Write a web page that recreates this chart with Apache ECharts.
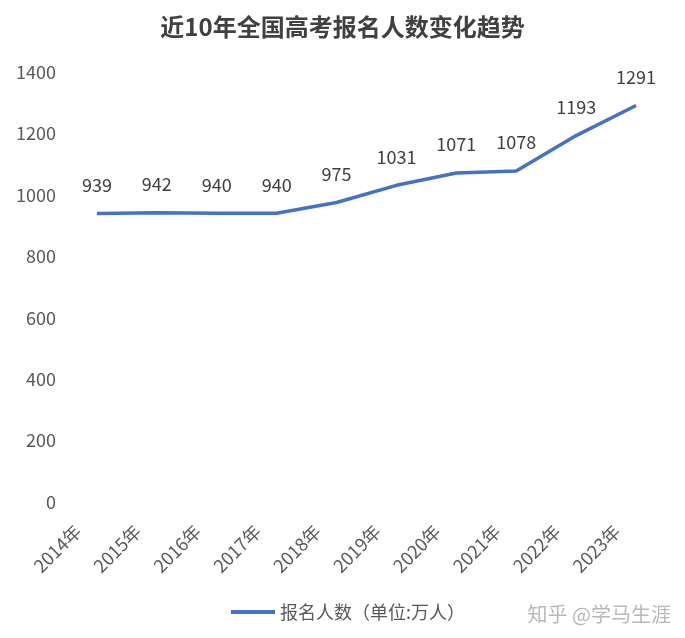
<!DOCTYPE html>
<html><head><meta charset="utf-8">
<script src="https://cdn.jsdelivr.net/npm/echarts@6/dist/echarts.min.js"></script>
<style>html,body{margin:0;padding:0;background:#fff}#c{width:685px;height:638px}</style>
</head><body><div id="c"></div>
<script>
const categories = ['2014年','2015年','2016年','2017年','2018年','2019年','2020年','2021年','2022年','2023年'];
const values = [939, 942, 940, 940, 975, 1031, 1071, 1078, 1193, 1291];
const seriesName = '报名人数（单位:万人）';
const titleText = '近10年全国高考报名人数变化趋势';
const watermark = '知乎 @学马生涯';
const FONT = '"Noto Sans CJK SC", "Noto Sans", sans-serif';
const chart = echarts.init(document.getElementById('c'), null, {renderer:'canvas'});
chart.setOption({
  animation: false,
  backgroundColor: '#fff',
  title: {text: titleText, left: 'center', top: 10,
    textStyle: {fontFamily: FONT, fontSize: 24, fontWeight: 'bold', color: '#404040'}},
  grid: {left: 67, right: 19, top: 72, bottom: 136, containLabel: false},
  xAxis: {type: 'category', data: categories, boundaryGap: true,
    axisLine: {show: false}, axisTick: {show: false}, splitLine: {show: false},
    axisLabel: {rotate: 45, interval: 0, margin: 7, fontFamily: FONT, fontSize: 18, color: '#595959',
      padding: [0, 27, 0, 0]}},
  yAxis: {type: 'value', min: 0, max: 1400, interval: 200,
    axisLine: {show: false}, axisTick: {show: false}, splitLine: {show: false},
    axisLabel: {margin: 11, fontFamily: FONT, fontSize: 18, color: '#595959', formatter: v => String(v)}},
  legend: {bottom: 12, left: 226, itemWidth: 44, itemHeight: 4, itemGap: 6,
    itemStyle: {color: '#4472C4', opacity: 1},
    textStyle: {fontFamily: FONT, fontSize: 18, color: '#595959'},
    data: [{name: seriesName, icon: 'rect', itemStyle: {color: '#4472C4', opacity: 1}}], selectedMode: false},
  series: [{name: seriesName, type: 'line', data: values, showSymbol: true, symbol: 'circle', symbolSize: 1,
    lineStyle: {color: '#4472C4', width: 3.5}, itemStyle: {color: '#4472C4', opacity: 0},
    label: {show: true, position: 'top', distance: 19, fontFamily: FONT, fontSize: 18, color: '#404040', opacity: 1}}],
  graphic: [{type: 'text', right: 14, bottom: 14,
    style: {text: watermark, fontFamily: FONT, fontSize: 20, fill: '#b8b8b8'}}]
});
</script></body></html>
